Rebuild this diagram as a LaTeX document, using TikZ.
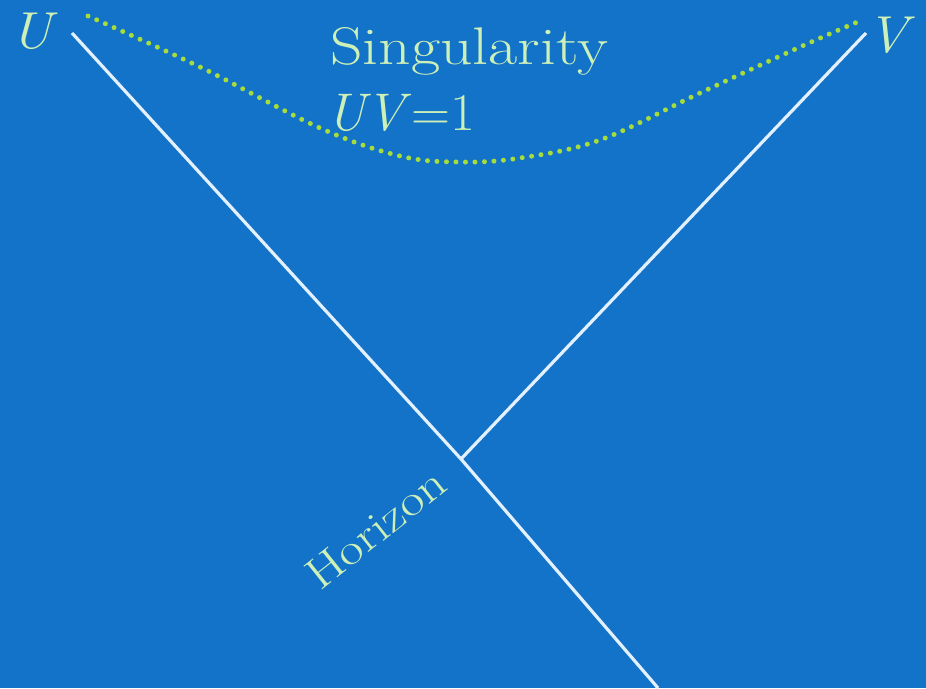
\documentclass[tikz,border=0pt]{standalone}
\usepackage{fontspec}
\begin{document}
\begin{tikzpicture}[x=1pt,y=-1pt,
  bg/.style={fill=bgblue},
  ray/.style={draw=raywhite,line width=3.2pt},
  lbl/.style={text=lblgreen,inner sep=0pt},
  sing/.style={draw=dotgreen,line width=5pt,line cap=round,dash pattern=on 0pt off 9.5pt}]
\definecolor{bgblue}{HTML}{1373C8}
\definecolor{raywhite}{HTML}{E2F0FF}
\definecolor{lblgreen}{HTML}{CDF0B8}
\definecolor{dotgreen}{HTML}{A6DC3C}
\fill[bg] (0,0) rectangle (926,688);
\useasboundingbox (0,0) rectangle (926,688);
\coordinate (uend) at (72,33);
\coordinate (vend) at (866,33);
\coordinate (x) at (461,459);
\coordinate (ubot) at (658,688);
\draw[ray] (uend) -- (x) -- (ubot);
\draw[ray] (vend) -- (x);
\draw[sing] plot[smooth,tension=0.6] coordinates {(88,16) (200,67) (320,128) (400,156) (460,162) (520,158) (600,140) (700,93) (800,47) (862,20)};
\node[lbl,anchor=base west,xscale=1.2,font=\fontsize{53}{58}\selectfont] (s) at (330,64) {Singularity};
\node[lbl,anchor=base west,xscale=1.02,font=\fontsize{53}{58}\selectfont] (uv) at (326,130) {\textit{UV}=1};
\node[lbl,anchor=base west,xscale=1.1,font=\fontsize{52}{58}\selectfont\itshape] (u) at (10,48) {U};
\node[lbl,anchor=base west,xscale=1.1,font=\fontsize{52}{58}\selectfont\itshape] (v) at (866,52) {V};
\node[lbl,anchor=base west,rotate=38.5,xscale=1.2,font=\fontsize{44}{48}\selectfont] (h) at (320,592) {Horizon};
\end{tikzpicture}
\end{document}
